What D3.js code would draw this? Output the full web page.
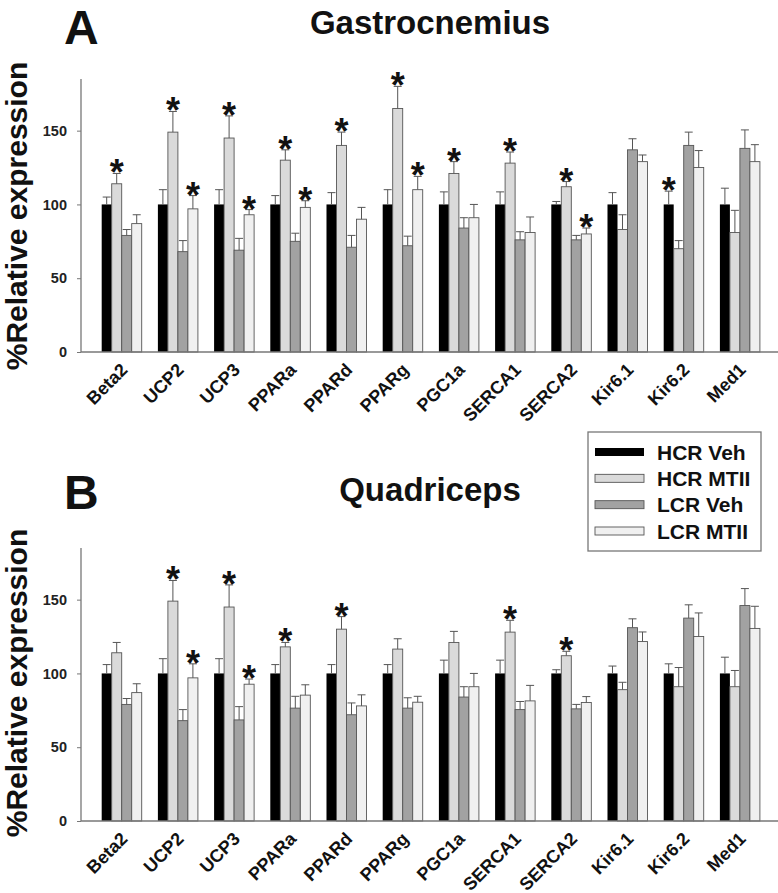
<!DOCTYPE html>
<html>
<head>
<meta charset="utf-8">
<script src="https://cdn.jsdelivr.net/npm/d3@7"></script>
<style>
  html, body { margin: 0; padding: 0; background: #fff; }
  svg { display: block; }
  text { font-family: "Liberation Sans", Arial, Helvetica, sans-serif; font-weight: bold; }
</style>
</head>
<body>
<svg id="chart" width="778" height="893"></svg>
<script>
// ---------- DATA ----------
const genes = ["Beta2","UCP2","UCP3","PPARa","PPARd","PPARg","PGC1a","SERCA1","SERCA2","Kir6.1","Kir6.2","Med1"];
const seriesNames = ["HCR Veh","HCR MTII","LCR Veh","LCR MTII"];
const yTicks = [0, 50, 100, 150];

// Panel A: Gastrocnemius (means and upper error)
const gHCRVeh  = [100,100,100,100,100,100,100,100,100,100,100,100];
const gHCRMTII = [114,149,145,130,140,165,121,128,112,83,70,81];
const gLCRVeh  = [79,68,69,75,71,72,84,76,76,137,140,138];
const gLCRMTII = [87,97,93,98,90,110,91,81,80,129,125,129];
const gHCRVehErr  = [5,10,10,6,8,10,8.5,8.5,2,8,9,11];
const gHCRMTIIErr = [7,14,15,7,9,15,8,7.5,3.5,10,5.5,15];
const gLCRVehErr  = [4,7.5,8,5.5,8,6.5,7,5.5,3,7.5,9,12.5];
const gLCRMTIIErr = [6,9,3.5,4.5,8,9,9,10.5,4,4.5,11.5,11.5];
const gStarHCRVeh  = ["Kir6.2"];
const gStarHCRMTII = ["Beta2","UCP2","UCP3","PPARa","PPARd","PPARg","PGC1a","SERCA1","SERCA2"];
const gStarLCRVeh  = [];
const gStarLCRMTII = ["UCP2","UCP3","PPARa","PPARg","SERCA2"];

// Panel B: Quadriceps
const qHCRVeh  = [100,100,100,100,100,100,100,100,100,100,100,100];
const qHCRMTII = [114,149,145,118,130,116.5,121,128,112,89,91,91];
const qLCRVeh  = [79,68,68.5,76.5,72,76.5,84,75.5,76,131,137.5,146];
const qLCRMTII = [87,97,92.7,85.3,78,80.5,91,81.4,80.3,121.6,125,130.5];
const qHCRVehErr  = [6,10,10,6,6,6,9,9,2.5,5,6.5,11];
const qHCRMTIIErr = [7,14,15,3,8.5,7,7.5,8,3,5,13,11];
const qLCRVehErr  = [4,7.5,9,8,8,7,7,5.5,3,6,9,11.5];
const qLCRMTIIErr = [6,9.5,3.5,7,7.5,4,9,10.5,4,6.5,16,15];
const qStarHCRVeh  = [];
const qStarHCRMTII = ["UCP2","UCP3","PPARa","PPARd","SERCA1","SERCA2"];
const qStarLCRVeh  = [];
const qStarLCRMTII = ["UCP2","UCP3"];

const seriesFill = ["#000000","#dadada","#a2a2a2","#f0f0f0"];

// ---------- DRAW ----------
const svg = d3.select("#chart");

function buildSeries(means, errs, stars) {
  return seriesNames.map((s, i) => ({
    name: s, fill: seriesFill[i],
    values: genes.map((g, j) => ({ gene: g, series: s, v: means[i][j], e: errs[i][j], star: stars[i].includes(g) }))
  }));
}

function drawPanel(cfg) {
  const { letter, title, titleY, letterY, top, bottom, data, labelY } = cfg;
  const axisX = 81, axisRight = 778;
  const x = d3.scaleBand().domain(genes).range([93.6, 768]).paddingInner(0.288).paddingOuter(0.144);
  const xs = d3.scaleBand().domain(seriesNames).range([0, x.bandwidth()]);
  const y = d3.scaleLinear().domain([0, 185]).range([bottom, top]);
  const g = svg.append("g");

  // letter + title
  g.append("text").attr("x", 64).attr("y", letterY).attr("font-size", 48).attr("fill", "#111").text(letter);
  g.append("text").attr("x", 430).attr("y", titleY).attr("text-anchor", "middle")
    .attr("font-size", 33).attr("fill", "#111").text(title);

  // y axis label
  g.append("text").attr("transform", `translate(27,${labelY}) rotate(-90)`).attr("text-anchor", "middle")
    .attr("font-size", 30).attr("fill", "#111").text("%Relative expression");

  // y axis
  const yAxis = d3.axisLeft(y).tickValues(yTicks).tickSize(4).tickPadding(10);
  const ya = g.append("g").attr("transform", `translate(${axisX},0)`).call(yAxis);
  ya.select(".domain").attr("stroke", "#777").attr("stroke-width", 1.3).attr("d", `M-0,${bottom}V${top}`);
  ya.selectAll(".tick line").attr("stroke", "#777");
  ya.selectAll(".tick text").attr("font-size", 14.5).attr("fill", "#222")
    .attr("font-family", "Liberation Sans, Arial, sans-serif").attr("font-weight", "bold");

  // bars
  data.forEach(s => {
    const sg = g.append("g");
    sg.selectAll("rect").data(s.values).join("rect")
      .attr("x", d => x(d.gene) + xs(d.series))
      .attr("y", d => y(d.v))
      .attr("width", xs.bandwidth())
      .attr("height", d => y(0) - y(d.v))
      .attr("fill", s.fill)
      .attr("stroke", s.name === "HCR Veh" ? "none" : "#555")
      .attr("stroke-width", 0.9);
    // error bars
    sg.selectAll("path.err").data(s.values).join("path").attr("class", "err")
      .attr("d", d => {
        const cx = x(d.gene) + xs(d.series) + xs.bandwidth() / 2;
        const yt = y(d.v + d.e), yb = y(d.v);
        return `M${cx},${yb}V${yt}M${cx - 4},${yt}H${cx + 4}`;
      })
      .attr("stroke", "#555").attr("stroke-width", 1).attr("fill", "none");
    // stars
    sg.selectAll("text.star").data(s.values.filter(d => d.star)).join("text").attr("class", "star")
      .attr("x", d => x(d.gene) + xs(d.series) + xs.bandwidth() / 2)
      .attr("y", d => y(d.v + d.e) + 12)
      .attr("text-anchor", "middle").attr("font-size", 36).attr("fill", "#111").text("*");
  });

  // x axis line
  g.append("line").attr("x1", axisX).attr("x2", axisRight).attr("y1", bottom).attr("y2", bottom)
    .attr("stroke", "#777").attr("stroke-width", 1.3);
  // x labels
  g.selectAll("text.xl").data(genes).join("text").attr("class", "xl")
    .attr("transform", d => `translate(${x(d) + x.bandwidth() / 2 + 7},${bottom + 19}) rotate(-45)`)
    .attr("text-anchor", "end").attr("font-size", 18).attr("fill", "#111").text(d => d);
}

drawPanel({
  letter: "A", title: "Gastrocnemius", titleY: 34, letterY: 44, top: 79, bottom: 352, labelY: 216,
  data: buildSeries([gHCRVeh, gHCRMTII, gLCRVeh, gLCRMTII],
                    [gHCRVehErr, gHCRMTIIErr, gLCRVehErr, gLCRMTIIErr],
                    [gStarHCRVeh, gStarHCRMTII, gStarLCRVeh, gStarLCRMTII])
});
drawPanel({
  letter: "B", title: "Quadriceps", titleY: 501, letterY: 509, top: 548, bottom: 821, labelY: 683,
  data: buildSeries([qHCRVeh, qHCRMTII, qLCRVeh, qLCRMTII],
                    [qHCRVehErr, qHCRMTIIErr, qLCRVehErr, qLCRMTIIErr],
                    [qStarHCRVeh, qStarHCRMTII, qStarLCRVeh, qStarLCRMTII])
});

// legend
const lg = svg.append("g");
lg.append("rect").attr("x", 588).attr("y", 432).attr("width", 173).attr("height", 119)
  .attr("fill", "#fff").attr("stroke", "#777").attr("stroke-width", 1.3);
const rowY = d3.scalePoint().domain(seriesNames).range([452, 531]);
seriesNames.forEach((s, i) => {
  lg.append("rect").attr("x", 595).attr("y", rowY(s) - 4).attr("width", 49).attr("height", 8)
    .attr("fill", seriesFill[i]).attr("stroke", i === 0 ? "none" : "#555").attr("stroke-width", 0.9);
  lg.append("text").attr("x", 657).attr("y", rowY(s) + 7.5).attr("font-size", 21).attr("fill", "#111").text(s);
});
</script>
</body>
</html>
